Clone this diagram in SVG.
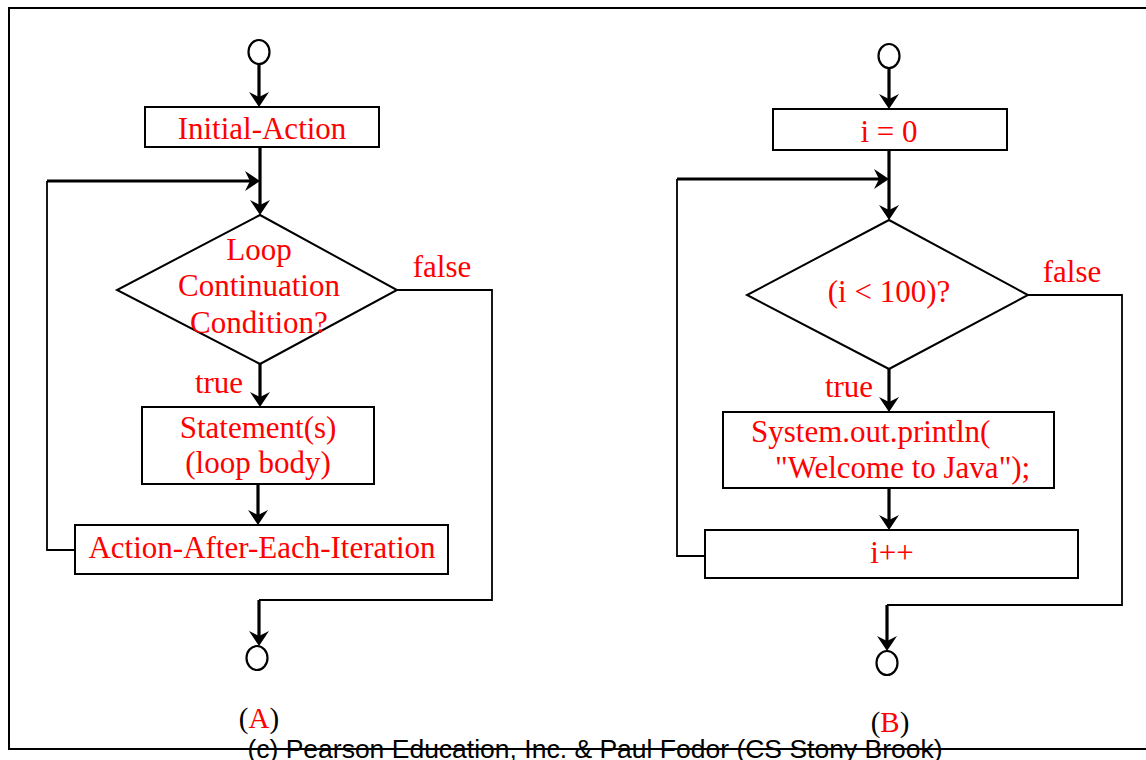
<svg xmlns="http://www.w3.org/2000/svg" width="1146" height="760" viewBox="0 0 1146 760">
<defs>
<style>
.node{fill:#fff;stroke:#000;stroke-width:2}
.term{fill:#fff;stroke:#000;stroke-width:2.2}
.t{font-family:"Liberation Serif","Times New Roman",serif;font-size:31px;fill:#f00;text-anchor:middle}
.thin{fill:none;stroke:#000;stroke-width:1.8}
.thick{fill:none;stroke:#000;stroke-width:3.2;marker-end:url(#ah)}
.lbl{font-family:"Liberation Serif","Times New Roman",serif;font-size:29px;fill:#000;text-anchor:middle}
</style>
<marker id="ah" viewBox="-17 -12 18 24" refX="-8" refY="0" markerWidth="18" markerHeight="24" markerUnits="userSpaceOnUse" orient="auto">
<path d="M0,0 L-15,-10 L-10,0 L-15,10 Z" fill="#000"/>
</marker>
</defs>
<rect x="9" y="8" width="1160" height="741" fill="none" stroke="#000" stroke-width="2"/>
<g id="connectors">
<path class="thick" d="M259,64 V99"/>
<path class="thick" d="M260,147 V207"/>
<path class="thin" d="M75,550 H47 V181"/>
<path class="thick" d="M47,181 H252"/>
<path class="thick" d="M260,364 V399"/>
<path class="thick" d="M258,484 V517"/>
<path class="thin" d="M397,290 H492 V600 H259"/>
<path class="thick" d="M259,600 V638"/>
<path class="thick" d="M889,68 V101"/>
<path class="thick" d="M889,150 V212"/>
<path class="thin" d="M705,556 H677 V179"/>
<path class="thick" d="M677,179 H881"/>
<path class="thick" d="M889,369 V404"/>
<path class="thick" d="M889,488 V522"/>
<path class="thin" d="M1028,295 H1122 V605 H887"/>
<path class="thick" d="M887,605 V643"/>
<text class="t" x="442" y="277">false</text>
<text class="t" x="219" y="393">true</text>
<text class="t" x="1072" y="282">false</text>
<text class="t" x="849" y="397">true</text>
</g>
<g id="startA"><ellipse class="term" cx="259" cy="52" rx="10.5" ry="12"/></g>
<g id="initA"><rect class="node" x="145" y="107" width="234" height="40"/><text class="t" x="262" y="139">Initial-Action</text></g>
<g id="condA"><polygon class="node" points="260,215 397,290 260,364 117,290"/>
<text class="t" x="259" y="260">Loop</text><text class="t" x="259" y="296">Continuation</text><text class="t" x="259" y="333">Condition?</text></g>
<g id="bodyA"><rect class="node" x="142" y="407" width="232" height="77"/><text class="t" x="258" y="438">Statement(s)</text><text class="t" x="258" y="473">(loop body)</text></g>
<g id="stepA"><rect class="node" x="75" y="525" width="373" height="49"/><text class="t" x="262" y="558">Action-After-Each-Iteration</text></g>
<g id="endA"><ellipse class="term" cx="257" cy="658" rx="10.5" ry="12"/></g>
<g id="labelA"><text class="lbl" x="259" y="728">(<tspan fill="#f00">A</tspan>)</text></g>
<g id="startB"><ellipse class="term" cx="889" cy="56" rx="10.5" ry="12"/></g>
<g id="initB"><rect class="node" x="773" y="109" width="234" height="41"/><text class="t" x="889" y="142">i = 0</text></g>
<g id="condB"><polygon class="node" points="889,220 1028,295 889,369 747,295"/><text class="t" x="889" y="302">(i &lt; 100)?</text></g>
<g id="bodyB"><rect class="node" x="723" y="412" width="331" height="76"/>
<text class="t" x="751" y="442" style="text-anchor:start">System.out.println(</text>
<text class="t" x="775" y="478" style="text-anchor:start">"Welcome to Java");</text></g>
<g id="stepB"><rect class="node" x="705" y="530" width="373" height="48"/><text class="t" x="892" y="563">i++</text></g>
<g id="endB"><ellipse class="term" cx="887" cy="663" rx="10.5" ry="12"/></g>
<g id="labelB"><text class="lbl" x="890" y="732">(<tspan fill="#f00">B</tspan>)</text></g>
<text x="595" y="758" style="font-family:'Liberation Sans',Arial,sans-serif;font-size:26.5px;fill:#000;text-anchor:middle">(c) Pearson Education, Inc. &amp; Paul Fodor (CS Stony Brook)</text>
</svg>
